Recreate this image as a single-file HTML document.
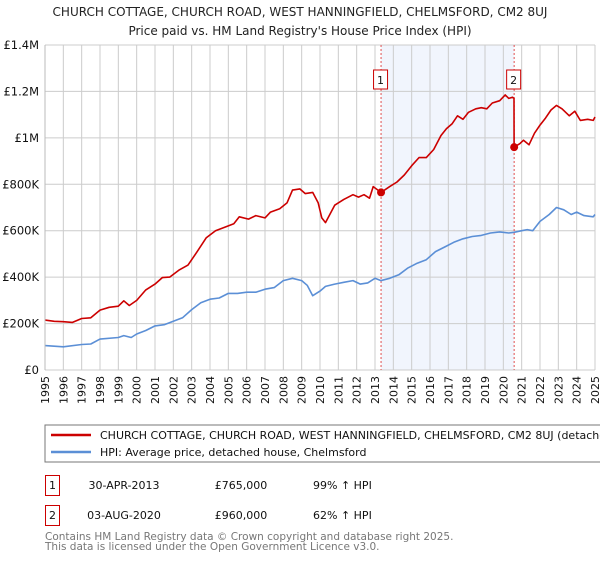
<!DOCTYPE html>
<html><head><meta charset="utf-8">
<style>
html,body{margin:0;padding:0;background:#fff;}
body{width:600px;height:560px;overflow:hidden;font-family:"DejaVu Sans","Liberation Sans",sans-serif;}
svg text{font-family:"DejaVu Sans","Liberation Sans",sans-serif;}
</style></head>
<body>
<svg id="chart" width="600" height="560" viewBox="0 0 600 560">
<text x="300" y="16" font-size="12" text-anchor="middle" fill="#222">CHURCH COTTAGE, CHURCH ROAD, WEST HANNINGFIELD, CHELMSFORD, CM2 8UJ</text>
<text x="300" y="35" font-size="12" text-anchor="middle" fill="#222">Price paid vs. HM Land Registry's House Price Index (HPI)</text>
<g id="grid"></g>
<g id="marks"></g>
<g id="axes"></g>
<g>
<rect x="45" y="425" width="570" height="37" fill="#fff" stroke="#777"/>
<line x1="51" y1="435" x2="91" y2="435" stroke="#cc0000" stroke-width="2.5"/>
<text x="100" y="439" font-size="11" fill="#111">CHURCH COTTAGE, CHURCH ROAD, WEST HANNINGFIELD, CHELMSFORD, CM2 8UJ (detached house)</text>
<line x1="51" y1="452" x2="91" y2="452" stroke="#5b8fd6" stroke-width="2.5"/>
<text x="100" y="456" font-size="11" fill="#111">HPI: Average price, detached house, Chelmsford</text>
</g>
<g>
<rect x="45.5" y="475.5" width="14" height="20" fill="#fff" stroke="#cc0000"/>
<text x="52.5" y="489" font-size="11" text-anchor="middle" fill="#111">1</text>
<text x="124" y="489" font-size="11" text-anchor="middle" fill="#111">30-APR-2013</text>
<text x="241" y="489" font-size="11" text-anchor="middle" fill="#111">£765,000</text>
<text x="313" y="489" font-size="11" fill="#111">99% ↑ HPI</text>
<rect x="45.5" y="505.5" width="14" height="20" fill="#fff" stroke="#cc0000"/>
<text x="52.5" y="519" font-size="11" text-anchor="middle" fill="#111">2</text>
<text x="124" y="519" font-size="11" text-anchor="middle" fill="#111">03-AUG-2020</text>
<text x="241" y="519" font-size="11" text-anchor="middle" fill="#111">£960,000</text>
<text x="313" y="519" font-size="11" fill="#111">62% ↑ HPI</text>
</g>
<text x="45" y="540" font-size="10.5" fill="#777">Contains HM Land Registry data © Crown copyright and database right 2025.</text>
<text x="45" y="550" font-size="10.5" fill="#777">This data is licensed under the Open Government Licence v3.0.</text>
</svg>
<script>
const yearTicks=[1995,1996,1997,1998,1999,2000,2001,2002,2003,2004,2005,2006,2007,2008,2009,2010,2011,2012,2013,2014,2015,2016,2017,2018,2019,2020,2021,2022,2023,2024,2025];
const priceTicks=[0,200000,400000,600000,800000,1000000,1200000,1400000];
const priceTickLabels=["£0","£200K","£400K","£600K","£800K","£1M","£1.2M","£1.4M"];
const propYears=[1995,1995.5,1996,1996.5,1997,1997.5,1998,1998.5,1999,1999.3,1999.6,2000,2000.5,2001,2001.4,2001.8,2002.3,2002.8,2003.3,2003.8,2004.3,2004.8,2005.3,2005.6,2006.1,2006.5,2007,2007.3,2007.8,2008.2,2008.5,2008.9,2009.2,2009.6,2009.9,2010.1,2010.3,2010.8,2011.3,2011.8,2012.1,2012.4,2012.7,2012.9,2013.33,2013.8,2014.2,2014.6,2015,2015.4,2015.8,2016.2,2016.6,2016.9,2017.2,2017.5,2017.8,2018.1,2018.5,2018.8,2019.1,2019.4,2019.8,2020.1,2020.3,2020.5,2020.58,2020.59,2020.9,2021.1,2021.4,2021.7,2022,2022.3,2022.6,2022.9,2023.2,2023.6,2023.9,2024.2,2024.6,2024.9,2025];
const propValues=[215,210,208,205,222,225,258,270,275,298,278,300,345,370,398,400,430,452,510,570,600,615,630,660,650,665,655,680,695,720,775,780,760,765,720,655,635,710,735,755,745,755,740,790,765,790,810,840,880,915,915,950,1010,1040,1060,1095,1080,1110,1125,1130,1125,1150,1160,1185,1170,1175,1170,960,975,990,970,1020,1055,1085,1120,1140,1125,1095,1115,1075,1080,1075,1090];
const hpiYears=[1995,1996,1997,1997.5,1998,1999,1999.3,1999.7,2000,2000.5,2001,2001.5,2002,2002.5,2003,2003.5,2004,2004.5,2005,2005.5,2006,2006.5,2007,2007.5,2008,2008.5,2009,2009.3,2009.6,2010,2010.3,2010.8,2011.3,2011.8,2012.2,2012.6,2013,2013.33,2013.8,2014.3,2014.8,2015.3,2015.8,2016.3,2016.8,2017.3,2017.8,2018.3,2018.8,2019.3,2019.8,2020.3,2020.59,2021,2021.3,2021.6,2022,2022.5,2022.9,2023.3,2023.7,2024,2024.4,2024.9,2025];
const hpiValues=[105,100,110,112,133,140,148,140,155,170,190,195,210,225,260,290,305,310,330,330,335,335,348,355,385,395,385,365,320,340,360,370,378,385,370,375,395,385,395,410,440,460,475,510,530,550,565,575,580,590,595,590,593,600,605,600,640,670,700,690,670,680,665,660,670];
const saleYears=[2013.33,2020.59];
const saleValues=[765,960];
const saleLabels=["1","2"];

const NS="http://www.w3.org/2000/svg";
const X0=45,X1=595,Y0=370,Y1=45;
const xs=y=>X0+(y-1995)/30*(X1-X0);
const ys=v=>Y0-v/1400000*(Y0-Y1);
function mk(tag,attrs,parent){const e=document.createElementNS(NS,tag);for(const k in attrs)e.setAttribute(k,attrs[k]);parent.appendChild(e);return e;}
const grid=document.getElementById('grid'),marks=document.getElementById('marks'),axes=document.getElementById('axes');

// shaded band
const band=mk('rect',{x:xs(saleYears[0]),y:Y1,width:xs(saleYears[1])-xs(saleYears[0]),height:Y0-Y1,fill:'#eef3fc',opacity:0.8},grid);



yearTicks.forEach(yr=>{
  const l=mk('line',{x1:xs(yr),x2:xs(yr),y1:Y1,y2:Y0,stroke:'#ccc','stroke-width':1},grid);
  
  
  const t=mk('text',{x:0,y:0,'font-size':11,fill:'#111','text-anchor':'end',transform:`translate(${xs(yr)+4},${Y0+6}) rotate(-90)`},axes);
  t.textContent=yr;
  
  
});
priceTicks.forEach((p,i)=>{
  const l=mk('line',{x1:X0,x2:X1,y1:ys(p),y2:ys(p),stroke:'#ccc','stroke-width':1},grid);
  
  
  const t=mk('text',{x:X0-6,y:ys(p)+4,'font-size':11.5,fill:'#111','text-anchor':'end'},axes);
  t.textContent=priceTickLabels[i];
  
  
});

saleYears.forEach((yr,i)=>{
  const l=mk('line',{x1:xs(yr),x2:xs(yr),y1:Y1,y2:Y0,stroke:'#e05050','stroke-width':1,'stroke-dasharray':'2,2'},marks);
  
  
});

function path(xv,yv,color,name){
  const d=xv.map((x,i)=>(i?'L':'M')+xs(x).toFixed(1)+','+ys(yv[i]*1000).toFixed(1)).join('');
  const p=mk('path',{d:d,fill:'none',stroke:color,'stroke-width':1.6,'stroke-linejoin':'round'},marks);
  
  
}
path(hpiYears,hpiValues,'#5b8fd6','hpi-line');
path(propYears,propValues,'#cc0000','property-line');

saleYears.forEach((yr,i)=>{
  const c=mk('circle',{cx:xs(yr),cy:ys(saleValues[i]*1000),r:4,fill:'#cc0000'},marks);
  
  
  const r=mk('rect',{x:xs(yr)-7.5,y:70,width:14,height:19,fill:'#fff',stroke:'#cc0000'},marks);
  
  
  const t=mk('text',{x:xs(yr)-0.5,y:84,'font-size':11,'text-anchor':'middle',fill:'#111'},marks);
  t.textContent=saleLabels[i];
  
  
});

const ax=mk('line',{x1:X0,x2:X0,y1:Y1,y2:Y0,stroke:'#bbb'},axes);


</script>
</body></html>
